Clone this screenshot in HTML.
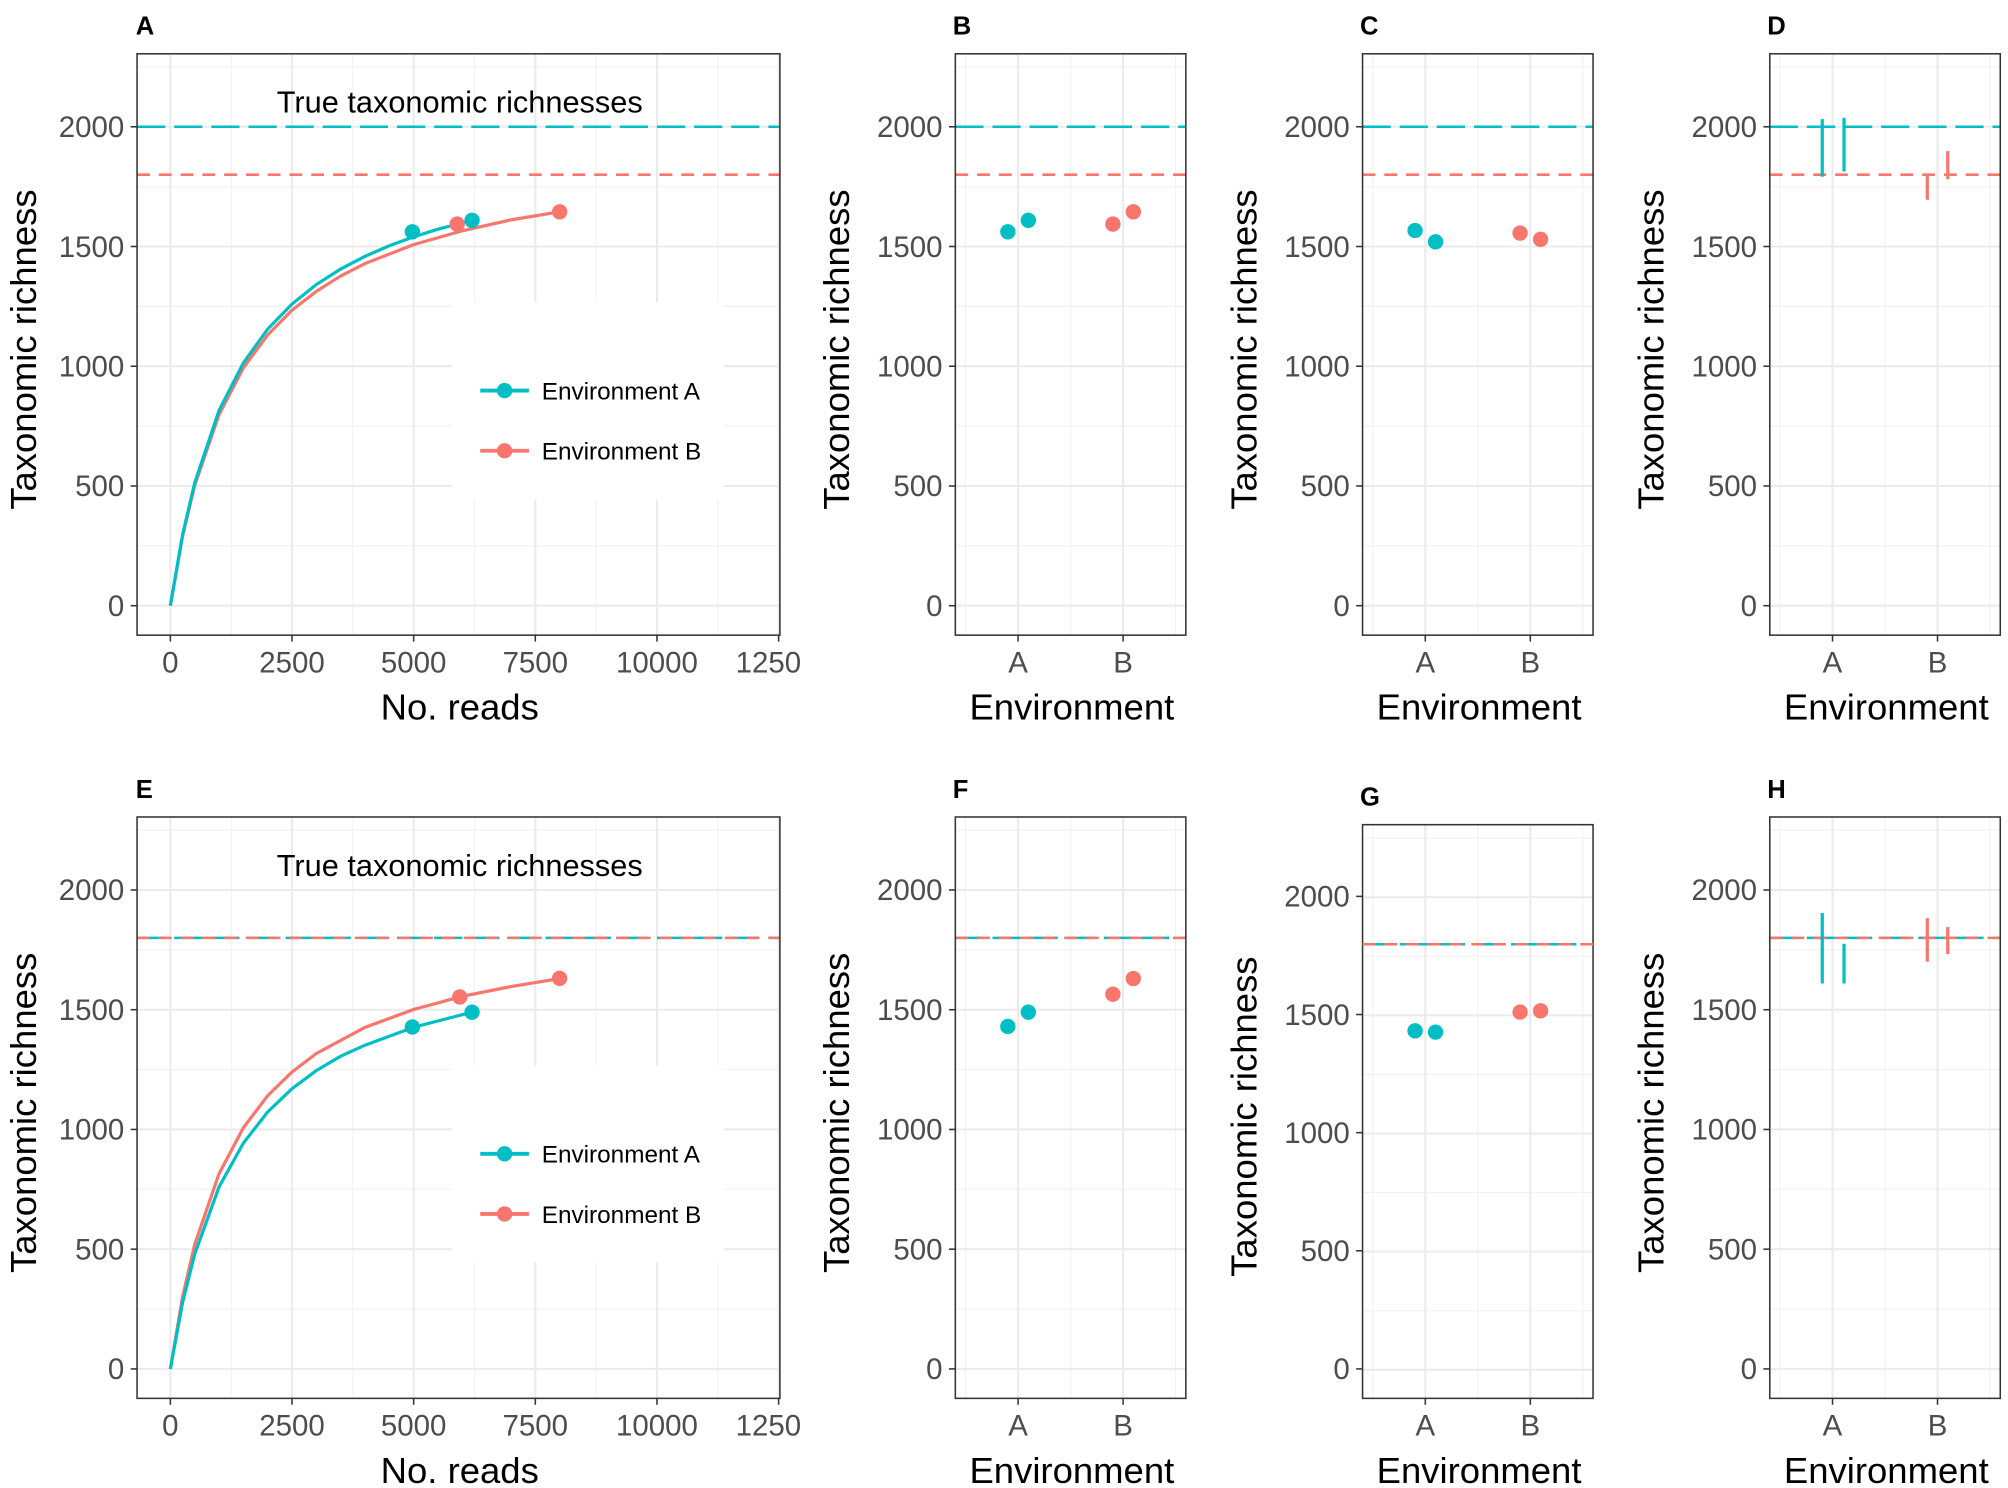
<!DOCTYPE html>
<html><head><meta charset="utf-8"><style>
html,body{margin:0;padding:0;background:#fff}
svg{display:block}
text{font-family:"Liberation Sans",Arial,sans-serif}
.tk{font-size:23px;fill:#4d4d4d}
.tt{font-size:28.5px;fill:#000}
.pl{font-size:20px;font-weight:bold;fill:#000}
.gM{stroke:#ebebeb;stroke-width:1.6}
.gm{stroke:#f2f2f2;stroke-width:0.9}
.bx{fill:none;stroke:#333;stroke-width:1.2}
.tkm{stroke:#333;stroke-width:1.2}
</style></head><body>
<svg width="2008" height="1488" viewBox="0 0 1568 1162" xmlns="http://www.w3.org/2000/svg">
<rect width="1568" height="1162" fill="#fff"/>
<defs>
<g id="catgrid">
  <g class="gm"><line x1="746" x2="926" y1="426.25" y2="426.25"/><line x1="746" x2="926" y1="332.75" y2="332.75"/><line x1="746" x2="926" y1="239.25" y2="239.25"/><line x1="746" x2="926" y1="145.75" y2="145.75"/><line x1="746" x2="926" y1="52.25" y2="52.25"/>
  <line x1="754" x2="754" y1="42" y2="496"/><line x1="836" x2="836" y1="42" y2="496"/><line x1="918" x2="918" y1="42" y2="496"/></g>
  <g class="gM"><line x1="746" x2="926" y1="473" y2="473"/><line x1="746" x2="926" y1="379.5" y2="379.5"/><line x1="746" x2="926" y1="286" y2="286"/><line x1="746" x2="926" y1="192.5" y2="192.5"/><line x1="746" x2="926" y1="99" y2="99"/>
  <line x1="795" x2="795" y1="42" y2="496"/><line x1="877" x2="877" y1="42" y2="496"/></g>
</g>
<g id="cataxes">
  <rect class="bx" x="746" y="42" width="180" height="454"/>
  <g class="tkm"><line x1="741" x2="746" y1="473" y2="473"/><line x1="741" x2="746" y1="379.5" y2="379.5"/><line x1="741" x2="746" y1="286" y2="286"/><line x1="741" x2="746" y1="192.5" y2="192.5"/><line x1="741" x2="746" y1="99" y2="99"/>
  <line x1="795" x2="795" y1="496" y2="501"/><line x1="877" x2="877" y1="496" y2="501"/></g>
  <g class="tk" text-anchor="end"><text x="736" y="481">0</text><text x="736" y="387.5">500</text><text x="736" y="294">1000</text><text x="736" y="200.5">1500</text><text x="736" y="107">2000</text></g>
  <g class="tk" text-anchor="middle"><text x="795" y="525">A</text><text x="877" y="525">B</text></g>
  <text class="tt" x="837" y="562" text-anchor="middle">Environment</text>
  <text class="tt" transform="translate(663,273) rotate(-90)" text-anchor="middle">Taxonomic richness</text>
</g>
<g id="numgrid">
  <g class="gm"><line x1="107" x2="609" y1="426.25" y2="426.25"/><line x1="107" x2="609" y1="332.75" y2="332.75"/><line x1="107" x2="609" y1="239.25" y2="239.25"/><line x1="107" x2="609" y1="145.75" y2="145.75"/><line x1="107" x2="609" y1="52.25" y2="52.25"/>
  <line x1="180.5" x2="180.5" y1="42" y2="496"/><line x1="275.5" x2="275.5" y1="42" y2="496"/><line x1="370.5" x2="370.5" y1="42" y2="496"/><line x1="465.5" x2="465.5" y1="42" y2="496"/><line x1="560.5" x2="560.5" y1="42" y2="496"/></g>
  <g class="gM"><line x1="107" x2="609" y1="473" y2="473"/><line x1="107" x2="609" y1="379.5" y2="379.5"/><line x1="107" x2="609" y1="286" y2="286"/><line x1="107" x2="609" y1="192.5" y2="192.5"/><line x1="107" x2="609" y1="99" y2="99"/>
  <line x1="133" x2="133" y1="42" y2="496"/><line x1="228" x2="228" y1="42" y2="496"/><line x1="323" x2="323" y1="42" y2="496"/><line x1="418" x2="418" y1="42" y2="496"/><line x1="513" x2="513" y1="42" y2="496"/><line x1="608" x2="608" y1="42" y2="496"/></g>
  <rect x="353" y="236" width="212" height="154" fill="#fff"/>
</g>
<g id="numaxes">
  <rect class="bx" x="107" y="42" width="502" height="454"/>
  <g class="tkm"><line x1="102" x2="107" y1="473" y2="473"/><line x1="102" x2="107" y1="379.5" y2="379.5"/><line x1="102" x2="107" y1="286" y2="286"/><line x1="102" x2="107" y1="192.5" y2="192.5"/><line x1="102" x2="107" y1="99" y2="99"/>
  <line x1="133" x2="133" y1="496" y2="501"/><line x1="228" x2="228" y1="496" y2="501"/><line x1="323" x2="323" y1="496" y2="501"/><line x1="418" x2="418" y1="496" y2="501"/><line x1="513" x2="513" y1="496" y2="501"/><line x1="608" x2="608" y1="496" y2="501"/></g>
  <g class="tk" text-anchor="end"><text x="97" y="481">0</text><text x="97" y="387.5">500</text><text x="97" y="294">1000</text><text x="97" y="200.5">1500</text><text x="97" y="107">2000</text></g>
  <g class="tk" text-anchor="middle"><text x="133" y="525">0</text><text x="228" y="525">2500</text><text x="323" y="525">5000</text><text x="418" y="525">7500</text><text x="513" y="525">10000</text><text x="600" y="525">1250</text></g>
  <text class="tt" x="359" y="562" text-anchor="middle">No. reads</text>
  <text class="tt" transform="translate(28,273) rotate(-90)" text-anchor="middle">Taxonomic richness</text>
  <text x="359" y="88" text-anchor="middle" style="font-size:24px">True taxonomic richnesses</text>
  <line x1="375" x2="413" y1="305" y2="305" stroke="#00BFC4" stroke-width="3"/><circle cx="394" cy="305" r="6" fill="#00BFC4"/>
  <text x="423" y="312" style="font-size:19px">Environment A</text>
  <line x1="375" x2="413" y1="352" y2="352" stroke="#F8766D" stroke-width="3"/><circle cx="394" cy="352" r="6" fill="#F8766D"/>
  <text x="423" y="359" style="font-size:19px">Environment B</text>
</g>
</defs>

<!-- ===== TOP ROW ===== -->
<text class="pl" x="106" y="27">A</text>
<use href="#numgrid"/>
<line x1="107" x2="609" y1="99" y2="99" stroke="#00BFC4" stroke-width="2" stroke-dasharray="22,7"/>
<line x1="107" x2="609" y1="136.4" y2="136.4" stroke="#F8766D" stroke-width="2" stroke-dasharray="10,7"/>
<polyline fill="none" stroke="#F8766D" stroke-width="2.5" points="133,473 142.5,419 152,379.1 171,323.8 190,287.3 209,261.5 228,242.2 247,227.5 266,215.5 285,205.8 323,191 361,180.2 399,171.7 437,165.4"/>
<polyline fill="none" stroke="#00BFC4" stroke-width="2.5" points="133,473 142.5,417.8 152,377.1 171,320.6 190,283.4 209,257 228,237.4 247,222.2 266,210.1 285,200.2 304,191.9 323,185 342,179 368.6,172.1"/>
<circle cx="357" cy="175" r="6" fill="#F8766D"/><circle cx="437" cy="165.4" r="6" fill="#F8766D"/>
<circle cx="322" cy="181" r="6" fill="#00BFC4"/><circle cx="368.6" cy="172" r="6" fill="#00BFC4"/>
<use href="#numaxes"/>

<text class="pl" x="744" y="27">B</text>
<use href="#catgrid"/>
<line x1="746" x2="926" y1="99" y2="99" stroke="#00BFC4" stroke-width="2" stroke-dasharray="22,7"/>
<line x1="746" x2="926" y1="136.4" y2="136.4" stroke="#F8766D" stroke-width="2" stroke-dasharray="10,7"/>
<circle cx="787" cy="181" r="6" fill="#00BFC4"/><circle cx="803" cy="172" r="6" fill="#00BFC4"/>
<circle cx="869" cy="175" r="6" fill="#F8766D"/><circle cx="885" cy="165.4" r="6" fill="#F8766D"/>
<use href="#cataxes"/>

<g transform="translate(318,0)">
<text class="pl" x="744" y="27">C</text>
<use href="#catgrid"/>
<line x1="746" x2="926" y1="99" y2="99" stroke="#00BFC4" stroke-width="2" stroke-dasharray="22,7"/>
<line x1="746" x2="926" y1="136.4" y2="136.4" stroke="#F8766D" stroke-width="2" stroke-dasharray="10,7"/>
<circle cx="787" cy="180" r="6" fill="#00BFC4"/><circle cx="803" cy="188.8" r="6" fill="#00BFC4"/>
<circle cx="869" cy="182" r="6" fill="#F8766D"/><circle cx="885" cy="186.9" r="6" fill="#F8766D"/>
<use href="#cataxes"/>
</g>

<g transform="translate(636,0)">
<text class="pl" x="744" y="27">D</text>
<use href="#catgrid"/>
<line x1="746" x2="926" y1="99" y2="99" stroke="#00BFC4" stroke-width="2" stroke-dasharray="22,7"/>
<line x1="746" x2="926" y1="136.4" y2="136.4" stroke="#F8766D" stroke-width="2" stroke-dasharray="10,7"/>
<line x1="787" x2="787" y1="93" y2="138" stroke="#00BFC4" stroke-width="2.5"/>
<line x1="804" x2="804" y1="92" y2="134" stroke="#00BFC4" stroke-width="2.5"/>
<line x1="869" x2="869" y1="136" y2="156" stroke="#F8766D" stroke-width="2.5"/>
<line x1="885" x2="885" y1="118" y2="140" stroke="#F8766D" stroke-width="2.5"/>
<use href="#cataxes"/>
</g>

<!-- ===== BOTTOM ROW ===== -->
<g transform="translate(0,596)">
<text class="pl" x="106" y="27">E</text>
<use href="#numgrid"/>
<line x1="107" x2="609" y1="136.4" y2="136.4" stroke="#00BFC4" stroke-width="2" stroke-dasharray="22,7"/>
<line x1="107" x2="609" y1="136.4" y2="136.4" stroke="#F8766D" stroke-width="2" stroke-dasharray="10,7"/>
<polyline fill="none" stroke="#F8766D" stroke-width="2.5" points="133,473 142.5,416.9 152,375.9 171,320.6 190,284.7 209,259.6 228,241.1 247,226.7 285,206.3 323,192.3 361,182 399,174.4 437,168.2"/>
<polyline fill="none" stroke="#00BFC4" stroke-width="2.5" points="133,473 142.5,421.4 152,383.4 171,330.9 190,296.7 209,272.3 228,254.2 247,240 266,228.8 285,220.2 323,206.2 368.6,194.4"/>
<circle cx="322" cy="206" r="6" fill="#00BFC4"/><circle cx="368.6" cy="194.4" r="6" fill="#00BFC4"/>
<circle cx="359" cy="182.5" r="6" fill="#F8766D"/><circle cx="437" cy="168" r="6" fill="#F8766D"/>
<use href="#numaxes"/>

<text class="pl" x="744" y="27">F</text>
<use href="#catgrid"/>
<line x1="746" x2="926" y1="136.4" y2="136.4" stroke="#00BFC4" stroke-width="2" stroke-dasharray="22,7"/>
<line x1="746" x2="926" y1="136.4" y2="136.4" stroke="#F8766D" stroke-width="2" stroke-dasharray="10,7"/>
<circle cx="787" cy="205.6" r="6" fill="#00BFC4"/><circle cx="803" cy="194.4" r="6" fill="#00BFC4"/>
<circle cx="869" cy="180.4" r="6" fill="#F8766D"/><circle cx="885" cy="168.2" r="6" fill="#F8766D"/>
<use href="#cataxes"/>

<g transform="translate(636,0)">
<text class="pl" x="744" y="27">H</text>
<use href="#catgrid"/>
<line x1="746" x2="926" y1="136.4" y2="136.4" stroke="#00BFC4" stroke-width="2" stroke-dasharray="22,7"/>
<line x1="746" x2="926" y1="136.4" y2="136.4" stroke="#F8766D" stroke-width="2" stroke-dasharray="10,7"/>
<line x1="787" x2="787" y1="117" y2="172" stroke="#00BFC4" stroke-width="2.5"/>
<line x1="804" x2="804" y1="141" y2="172" stroke="#00BFC4" stroke-width="2.5"/>
<line x1="869" x2="869" y1="121" y2="155" stroke="#F8766D" stroke-width="2.5"/>
<line x1="885" x2="885" y1="128" y2="149" stroke="#F8766D" stroke-width="2.5"/>
<use href="#cataxes"/>
</g>
</g>

<!-- G panel: slightly different scale -->
<g transform="translate(318,596)">
<text class="pl" x="744" y="33">G</text>
<g transform="translate(0,48.4) scale(1,0.9866) translate(0,-42)">
<use href="#catgrid"/>
</g>
<rect class="bx" x="746" y="48" width="180" height="448"/>
<line x1="746" x2="926" y1="141.4" y2="141.4" stroke="#00BFC4" stroke-width="2" stroke-dasharray="22,7"/>
<line x1="746" x2="926" y1="141.4" y2="141.4" stroke="#F8766D" stroke-width="2" stroke-dasharray="10,7"/>
<circle cx="787" cy="209" r="6" fill="#00BFC4"/><circle cx="803" cy="210" r="6" fill="#00BFC4"/>
<circle cx="869" cy="194.3" r="6" fill="#F8766D"/><circle cx="885" cy="193.4" r="6" fill="#F8766D"/>
<g class="tkm"><line x1="741" x2="746" y1="473" y2="473"/><line x1="741" x2="746" y1="380.75" y2="380.75"/><line x1="741" x2="746" y1="288.5" y2="288.5"/><line x1="741" x2="746" y1="196.25" y2="196.25"/><line x1="741" x2="746" y1="104" y2="104"/>
<line x1="795" x2="795" y1="496" y2="501"/><line x1="877" x2="877" y1="496" y2="501"/></g>
<g class="tk" text-anchor="end"><text x="736" y="481">0</text><text x="736" y="388.75">500</text><text x="736" y="296.5">1000</text><text x="736" y="204.25">1500</text><text x="736" y="112">2000</text></g>
<g class="tk" text-anchor="middle"><text x="795" y="525">A</text><text x="877" y="525">B</text></g>
<text class="tt" x="837" y="562" text-anchor="middle">Environment</text>
<text class="tt" transform="translate(663,276) rotate(-90)" text-anchor="middle">Taxonomic richness</text>
</g>
</svg>
</body></html>
